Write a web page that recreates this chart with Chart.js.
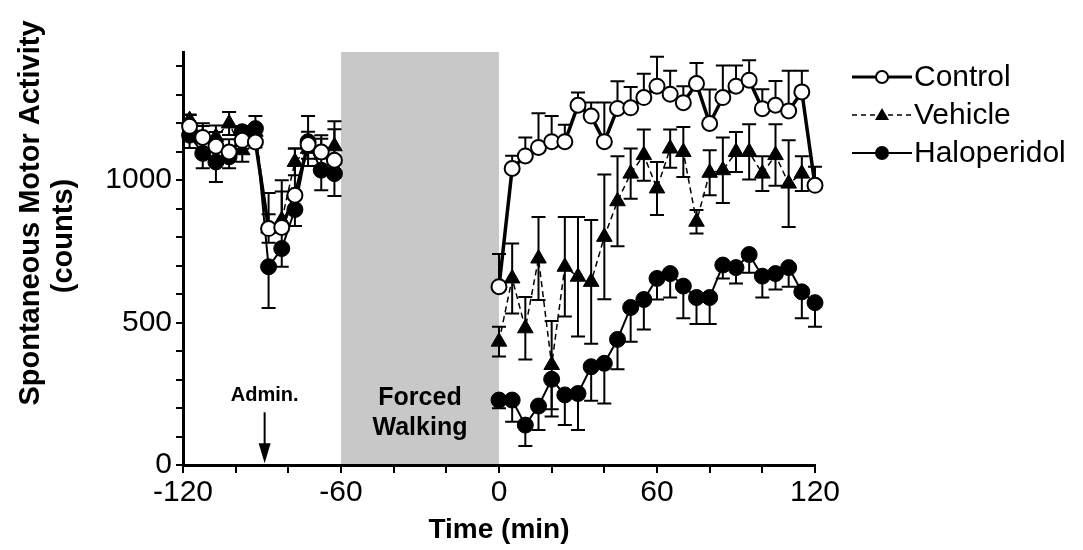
<!DOCTYPE html>
<html>
<head>
<meta charset="utf-8">
<script src="https://cdn.jsdelivr.net/npm/chart.js@4/dist/chart.umd.min.js"></script>
<style>
  html, body { margin: 0; padding: 0; background: #fff; }
  #chart { display: block; }
</style>
</head>
<body>
<canvas id="chart" width="1083" height="550"></canvas>
<script>
// Sampling times (min) before and after the forced-walking block
const preTimes = [-117.5, -112.5, -107.5, -102.5, -97.5, -92.5, -87.5, -82.5, -77.5, -72.5, -67.5, -62.5];
const postTimes = [0, 5, 10, 15, 20, 25, 30, 35, 40, 45, 50, 55, 60, 65, 70, 75, 80, 85, 90, 95, 100, 105, 110, 115, 120];

// Control group (mean, SEM)
const controlPre = [1189, 1150, 1119, 1099, 1140, 1134, 830, 834, 947, 1125, 1099, 1070];
const controlPreErr = [40, 50, 50, 45, 50, 55, 125, 166, 164, 100, 59, 137];
const controlPost = [626, 1041, 1085, 1115, 1135, 1135, 1263, 1225, 1135, 1252, 1254, 1290, 1330, 1302, 1272, 1339, 1199, 1290, 1330, 1351, 1251, 1263, 1243, 1310, 982];
const controlPostErr = [115, 45, 65, 120, 90, 60, 45, 48, 138, 95, 73, 84, 103, 82, 58, 72, 119, 113, 73, 70, 68, 85, 141, 74, 65];

// Vehicle group
const vehiclePre = [1211, 1150, 1152, 1199, 1105, 1170, 830, 860, 1064, 1110, 1090, 1119];
const vehiclePreErr = [20, 40, 40, 40, 40, 55, 50, 100, 47, 60, 55, 60];
const vehiclePost = [433, 655, 480, 725, 351, 696, 661, 643, 801, 926, 1023, 1088, 971, 1111, 1099, 854, 1026, 1035, 1099, 1099, 1023, 1088, 988, 1023, null];
const vehiclePostErr = [52, 123, 110, 146, 155, 175, 210, 217, 219, 158, 88, 90, 93, 67, 88, 41, 79, 115, 70, 97, 61, 108, 152, 61, null];

// Haloperidol group
const haloPre = [1158, 1094, 1064, 1082, 1170, 1181, 696, 760, 897, 1135, 1035, 1023];
const haloPreErr = [45, 52, 70, 40, 60, 50, 145, 64, 58, 60, 70, 79];
const haloPost = [228, 228, 140, 207, 301, 246, 251, 345, 357, 441, 553, 581, 655, 672, 628, 588, 588, 702, 693, 739, 663, 672, 693, 608, 570];
const haloPostErr = [29, 76, 73, 84, 131, 106, 128, 119, 141, 105, 120, 105, 74, 84, 113, 93, 93, 47, 56, 64, 75, 56, 67, 93, 85];

const xTickValues = [-120, -100, -80, -60, -40, -20, 0, 20, 40, 60, 80, 100, 120];
const xTickLabels = { '-120': '-120', '-60': '-60', '0': '0', '60': '60', '120': '120' };
const yTickValues = [0, 100, 200, 300, 400, 500, 600, 700, 800, 900, 1000, 1100, 1200, 1300, 1400];
const yTickLabels = { '0': '0', '500': '500', '1000': '1000' };

const walkStart = -60, walkEnd = 0;
const adminTime = -89;

const FONT = '"Liberation Sans", Arial, Helvetica, sans-serif';

// join pre and post samples with a null point so the line breaks across the walking block
function buildPoints(pre, post) {
  const pts = preTimes.map((t, i) => ({ x: t, y: pre[i] }));
  pts.push({ x: -30, y: null });
  postTimes.forEach((t, i) => pts.push({ x: t, y: post[i] }));
  return pts;
}
function buildErrors(pre, post) {
  return pre.concat([null], post);
}

// vertical SEM bars with caps, drawn under the markers
const errorBars = {
  id: 'errorBars',
  beforeDatasetsDraw(chart) {
    const { ctx, scales: { y } } = chart;
    ctx.save();
    ctx.strokeStyle = '#000';
    ctx.lineWidth = 2;
    chart.data.datasets.forEach((ds, di) => {
      const meta = chart.getDatasetMeta(di);
      meta.data.forEach((pt, i) => {
        const v = ds.data[i].y, e = ds.errors[i];
        if (v == null || e == null) return;
        const ends = [];
        if (ds.errDir !== 'down') ends.push(y.getPixelForValue(v + e));
        if (ds.errDir !== 'up') ends.push(y.getPixelForValue(v - e));
        ends.forEach(py => {
          ctx.beginPath();
          ctx.moveTo(pt.x, pt.y);
          ctx.lineTo(pt.x, py);
          ctx.moveTo(pt.x - 7, py);
          ctx.lineTo(pt.x + 7, py);
          ctx.stroke();
        });
      });
    });
    ctx.restore();
  }
};

// grey forced-walking block behind everything
const walkBlock = {
  id: 'walkBlock',
  beforeDatasetsDraw(chart) {
    const { ctx, chartArea, scales: { x } } = chart;
    ctx.save();
    ctx.fillStyle = '#c8c8c8';
    const x0 = x.getPixelForValue(walkStart), x1 = x.getPixelForValue(walkEnd);
    ctx.fillRect(x0, chartArea.top, x1 - x0, chartArea.bottom - chartArea.top - 1);
    ctx.restore();
  }
};

// text labels, arrow, axis titles and legend
const annotations = {
  id: 'annotations',
  afterDraw(chart) {
    const { ctx, scales: { x, y } } = chart;
    ctx.save();
    ctx.fillStyle = '#000';
    ctx.strokeStyle = '#000';
    ctx.textAlign = 'center';
    ctx.textBaseline = 'middle';

    // administration arrow
    const ax = x.getPixelForValue(adminTime);
    ctx.font = 'bold 20px ' + FONT;
    ctx.fillText('Admin.', ax, y.getPixelForValue(245));
    const aTop = y.getPixelForValue(185), aTip = y.getPixelForValue(6);
    ctx.lineWidth = 2;
    ctx.beginPath();
    ctx.moveTo(ax, aTop);
    ctx.lineTo(ax, aTip - 14);
    ctx.stroke();
    ctx.beginPath();
    ctx.moveTo(ax - 6, aTip - 20);
    ctx.lineTo(ax + 6, aTip - 20);
    ctx.lineTo(ax, aTip);
    ctx.closePath();
    ctx.fill();

    // forced walking label
    const fx = x.getPixelForValue((walkStart + walkEnd) / 2);
    ctx.font = 'bold 25px ' + FONT;
    ctx.fillText('Forced', fx, y.getPixelForValue(235));
    ctx.fillText('Walking', fx, y.getPixelForValue(130));

    // axis titles
    ctx.font = 'bold 28px ' + FONT;
    ctx.fillText('Time (min)', x.getPixelForValue(0), 530);
    ctx.font = 'bold 29px ' + FONT;
    ctx.save();
    ctx.translate(31, 213);
    ctx.rotate(-Math.PI / 2);
    ctx.fillText('Spontaneous Motor Activity', 0, 0);
    ctx.restore();
    ctx.save();
    ctx.translate(64, 236);
    ctx.rotate(-Math.PI / 2);
    ctx.fillText('(counts)', 0, 0);
    ctx.restore();

    // legend
    const items = [
      { label: 'Control', dash: [], lw: 3, marker: 'open' },
      { label: 'Vehicle', dash: [5, 4], lw: 1.5, marker: 'tri' },
      { label: 'Haloperidol', dash: [], lw: 2, marker: 'dot' }
    ];
    ctx.font = '30px ' + FONT;
    ctx.textAlign = 'left';
    items.forEach((it, i) => {
      const ly = 77 + i * 38;
      ctx.lineWidth = it.lw;
      ctx.setLineDash(it.dash);
      ctx.beginPath();
      ctx.moveTo(852, ly);
      ctx.lineTo(912, ly);
      ctx.stroke();
      ctx.setLineDash([]);
      const mx = 882;
      if (it.marker === 'open') {
        ctx.fillStyle = '#fff';
        ctx.lineWidth = 2;
        ctx.beginPath();
        ctx.arc(mx, ly, 6, 0, Math.PI * 2);
        ctx.fill();
        ctx.stroke();
      } else if (it.marker === 'dot') {
        ctx.fillStyle = '#000';
        ctx.beginPath();
        ctx.arc(mx, ly, 7, 0, Math.PI * 2);
        ctx.fill();
      } else {
        ctx.fillStyle = '#000';
        ctx.beginPath();
        ctx.moveTo(mx, ly - 7);
        ctx.lineTo(mx + 7, ly + 5);
        ctx.lineTo(mx - 7, ly + 5);
        ctx.closePath();
        ctx.fill();
      }
      ctx.fillStyle = '#000';
      ctx.fillText(it.label, 914, ly + 1);
    });
    ctx.restore();
  }
};

new Chart(document.getElementById('chart'), {
  type: 'line',
  data: {
    datasets: [
      {
        label: 'Control',
        data: buildPoints(controlPre, controlPost),
        errors: buildErrors(controlPreErr, controlPostErr),
        errDir: 'up',
        clip: false,
        borderColor: '#000', borderWidth: 3.5,
        pointStyle: 'circle', pointRadius: 7.5,
        pointBackgroundColor: '#fff', pointBorderColor: '#000', pointBorderWidth: 2
      },
      {
        label: 'Vehicle',
        data: buildPoints(vehiclePre, vehiclePost),
        errors: buildErrors(vehiclePreErr, vehiclePostErr),
        errDir: 'both',
        clip: false,
        borderColor: '#000', borderWidth: 1.5, borderDash: [6, 4],
        pointStyle: 'triangle', pointRadius: 9,
        pointBackgroundColor: '#000', pointBorderColor: '#000', pointBorderWidth: 1
      },
      {
        label: 'Haloperidol',
        data: buildPoints(haloPre, haloPost),
        errors: buildErrors(haloPreErr, haloPostErr),
        errDir: 'down',
        clip: false,
        borderColor: '#000', borderWidth: 2,
        pointStyle: 'circle', pointRadius: 8,
        pointBackgroundColor: '#000', pointBorderColor: '#000', pointBorderWidth: 1
      }
    ]
  },
  options: {
    responsive: false,
    animation: false,
    devicePixelRatio: 1,
    spanGaps: false,
    layout: { padding: { top: 52, right: 268, bottom: 0, left: 0 } },
    plugins: { legend: { display: false }, tooltip: { enabled: false } },
    scales: {
      x: {
        type: 'linear',
        min: -120, max: 120,
        afterBuildTicks: s => { s.ticks = xTickValues.map(v => ({ value: v })); },
        afterFit: s => { s.height = 85; },
        ticks: {
          autoSkip: false, maxRotation: 0, padding: 2,
          color: '#000', font: { family: FONT, size: 30 },
          callback: v => xTickLabels[v] || ''
        },
        grid: { drawOnChartArea: false, color: '#000', lineWidth: 2, tickLength: 8 },
        border: { color: '#000', width: 3 }
      },
      y: {
        min: 0, max: 1450,
        afterBuildTicks: s => { s.ticks = yTickValues.map(v => ({ value: v })); },
        afterFit: s => { s.width = 183; },
        ticks: {
          autoSkip: false, padding: 4,
          color: '#000', font: { family: FONT, size: 30 },
          callback: v => yTickLabels[v] || ''
        },
        grid: { drawOnChartArea: false, color: '#000', lineWidth: 2, tickLength: 7 },
        border: { color: '#000', width: 3 }
      }
    }
  },
  plugins: [walkBlock, errorBars, annotations]
});
</script>
</body>
</html>
